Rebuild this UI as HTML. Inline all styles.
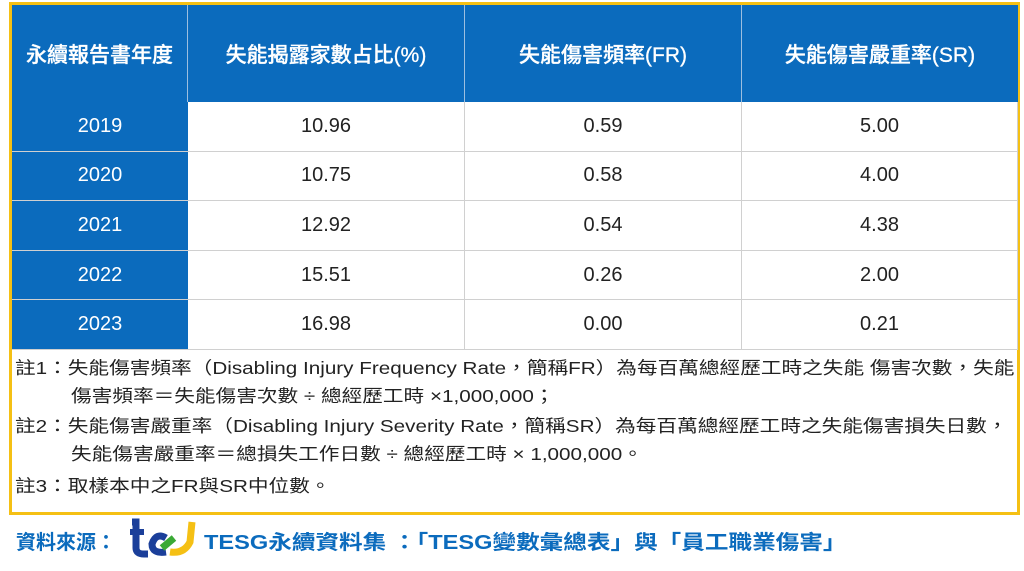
<!DOCTYPE html>
<html><head><meta charset="utf-8">
<style>
body{margin:0;width:1024px;height:571px;background:#fff;overflow:hidden;font-family:"Liberation Sans","Noto Sans CJK TC",sans-serif;position:relative}
.frame{position:absolute;left:9px;top:2px;width:1005px;height:507px;border:3px solid #f5c014}
.c{position:absolute;display:flex;align-items:center;justify-content:center;box-sizing:border-box;font-size:20px}
.h{background:#0b6bbd;color:#fff;border-right:1px solid #9dbfe0;font-size:21px;font-weight:500;-webkit-text-stroke:0.3px #fff}
.y{background:#0b6bbd;color:#fff;border-bottom:1px solid #d0d0d0}
.v{background:#fff;color:#222;border-right:1px solid #d0d0d0;border-bottom:1px solid #d0d0d0}
.note{position:absolute;left:15px;font-size:17.5px;color:#222;white-space:nowrap;transform:scaleX(1.18);transform-origin:0 0}
.src{position:absolute;top:526px;font-size:20px;color:#0b6bbd;font-weight:bold;white-space:nowrap;transform-origin:0 0}
</style></head><body>
<div class="frame"></div>
<div>
<div class="c h" style="left:12px;top:5px;width:176px;height:97px">永續報告書年度</div>
<div class="c h" style="left:188px;top:5px;width:277px;height:97px">失能揭露家數占比(%)</div>
<div class="c h" style="left:465px;top:5px;width:277px;height:97px">失能傷害頻率(FR)</div>
<div class="c h" style="left:742px;top:5px;width:276px;height:97px;border-right:none">失能傷害嚴重率(SR)</div>
<div id="rows"></div>
</div>
<div class="note" style="top:355px">註1：失能傷害頻率（Disabling Injury Frequency Rate，簡稱FR）為每百萬總經歷工時之失能 傷害次數，失能</div>
<div class="note" style="top:383px;left:71px">傷害頻率＝失能傷害次數 ÷ 總經歷工時 ×1,000,000；</div>
<div class="note" style="top:413px">註2：失能傷害嚴重率（Disabling Injury Severity Rate，簡稱SR）為每百萬總經歷工時之失能傷害損失日數，</div>
<div class="note" style="top:441px;left:71px">失能傷害嚴重率＝總損失工作日數 ÷ 總經歷工時 × 1,000,000。</div>
<div class="note" style="top:473px">註3：取樣本中之FR與SR中位數。</div>
<div class="src" style="left:16px">資料來源：</div>
<svg style="position:absolute;left:126px;top:518px" width="78" height="40">
<path d="M6 4 L10 4 L10 30 Q10 36 18 36 L22 36" stroke="#1b3f9a" stroke-width="7" fill="none"/>
<path d="M4 14 L18 14" stroke="#1b3f9a" stroke-width="6"/>
<path d="M40 20 Q30 14 26 26 Q26 36 40 34" stroke="#1b3f9a" stroke-width="7" fill="none"/>
<path d="M36 30 L48 20" stroke="#3aa935" stroke-width="7"/>
<path d="M44 34 Q58 36 64 24 L66 4" stroke="#f5c014" stroke-width="7" fill="none"/>
</svg>
<div class="src" style="left:204px;transform:scaleX(1.18)">TESG永續資料集 ：「TESG變數彙總表」與「員工職業傷害」</div>
<script>
const years=["2019","2020","2021","2022","2023"];
const ratio=["10.96","10.75","12.92","15.51","16.98"];
const fr=["0.59","0.58","0.54","0.26","0.00"];
const sr=["5.00","4.00","4.38","2.00","0.21"];
const rows=document.getElementById('rows');
const top0=102,rh=49.6;
function cell(cls,x,y,w,h,t,name){const d=document.createElement('div');d.className='c '+cls;d.style.cssText=`left:${x}px;top:${y}px;width:${w}px;height:${h}px`;d.textContent=t;


rows.appendChild(d);}
years.forEach((yr,i)=>{const y=top0+i*rh;
cell('y',12,y,176,rh,yr,'year-'+yr);
cell('v',188,y,277,rh,ratio[i],'ratio-'+yr);
cell('v',465,y,277,rh,fr[i],'fr-'+yr);
cell('v',742,y,276,rh,sr[i],'sr-'+yr);});
</script>
</body></html>
